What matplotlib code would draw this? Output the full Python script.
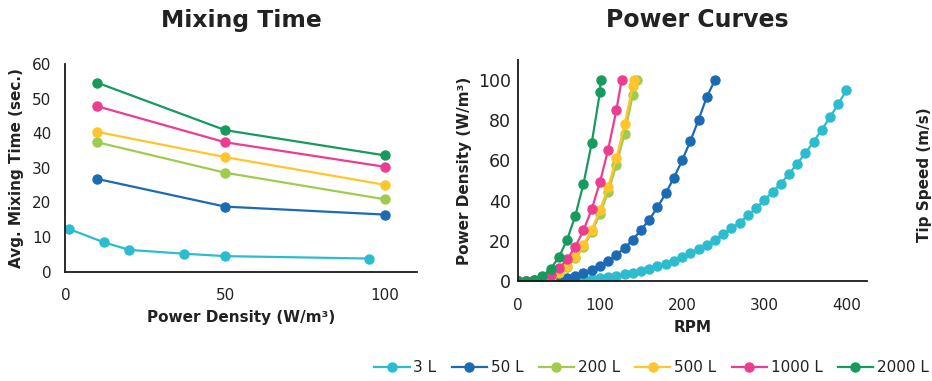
import matplotlib
matplotlib.use('Agg')
import matplotlib.pyplot as plt
from matplotlib.lines import Line2D

# Series names and colours
series = ['3 L', '50 L', '200 L', '500 L', '1000 L', '2000 L']
colors = ['#2BBDCF', '#1B6AB4', '#9FCC4E', '#FFC52C', '#EC3D91', '#179B5C']

# Mixing time vs power density (W/m3 -> sec.)
mix_pd_3 = [1, 12, 20, 37, 50, 95]
mix_t_3 = [12.4, 8.5, 6.3, 5.2, 4.5, 3.8]
mix_pd = [10, 50, 100]
mix_t_50 = [26.8, 18.8, 16.5]
mix_t_200 = [37.4, 28.6, 20.9]
mix_t_500 = [40.4, 33.1, 25.1]
mix_t_1000 = [47.8, 37.4, 30.3]
mix_t_2000 = [54.6, 40.9, 33.6]

# Power curves: RPM vs power density (W/m3)
rpm_3 = [0, 10, 20, 30, 40, 50, 60, 70, 80, 90, 100, 110, 120, 130, 140, 150,
         160, 170, 180, 190, 200, 210, 220, 230, 240, 250, 260, 270, 280, 290,
         300, 310, 320, 330, 340, 350, 360, 370, 380, 390, 400]
pw_3 = [0, 0, 0.05, 0.1, 0.2, 0.3, 0.4, 0.6, 0.8, 1.2, 1.5, 2.0, 2.5, 3.3, 4.2,
        5.1, 6.1, 7.3, 8.6, 10.1, 12.0, 14.0, 16.0, 18.1, 20.5, 23.3, 26.2,
        29.1, 32.6, 36.3, 40.3, 44.3, 48.5, 53.3, 58.4, 63.7, 69.4, 75.4, 81.5,
        88.2, 95.0]
rpm_50 = [0, 10, 20, 30, 40, 50, 60, 70, 80, 90, 100, 110, 120, 130, 140, 150,
          160, 170, 180, 190, 200, 210, 220, 230, 240]
pw_50 = [0, 0, 0.1, 0.2, 0.5, 0.9, 1.6, 2.5, 3.9, 5.5, 7.5, 9.8, 13.0, 16.4,
         20.6, 25.4, 30.6, 36.6, 43.6, 51.4, 60.0, 69.6, 80.2, 91.6, 100]
rpm_200 = [0, 10, 20, 30, 40, 50, 60, 70, 80, 90, 100, 110, 120, 130, 140, 144.6]
pw_200 = [0, 0, 0.3, 0.9, 2.1, 4.2, 7.2, 11.3, 17.0, 24.2, 33.3, 44.4, 57.7,
          73.4, 92.5, 100]
rpm_500 = [0, 10, 20, 30, 40, 50, 60, 70, 80, 90, 100, 110, 120, 130, 140, 141.3]
pw_500 = [0, 0, 0.3, 1.0, 2.3, 4.5, 7.6, 12.0, 17.9, 25.5, 35.2, 47.0, 61.0,
          77.9, 97.3, 100]
rpm_1000 = [0, 10, 20, 30, 40, 50, 60, 70, 80, 90, 100, 110, 120, 126.4]
pw_1000 = [0, 0, 0.4, 1.3, 3.2, 6.3, 10.7, 17.0, 25.2, 35.7, 49.1, 65.4, 85.0, 100]
rpm_2000 = [0, 10, 20, 30, 40, 50, 60, 70, 80, 90, 100, 100.8]
pw_2000 = [0, 0.1, 0.7, 2.6, 6.0, 11.8, 20.4, 32.4, 48.4, 68.6, 94.0, 100]

mix_x = [mix_pd_3, mix_pd, mix_pd, mix_pd, mix_pd, mix_pd]
mix_y = [mix_t_3, mix_t_50, mix_t_200, mix_t_500, mix_t_1000, mix_t_2000]
pc_x = [rpm_3, rpm_50, rpm_200, rpm_500, rpm_1000, rpm_2000]
pc_y = [pw_3, pw_50, pw_200, pw_500, pw_1000, pw_2000]

plt.rcParams['font.family'] = 'DejaVu Sans'
text_color = '#222222'

fig = plt.figure(figsize=(9.32, 3.81), dpi=100)
ax1 = fig.add_axes([0.0701, 0.2869, 0.3773, 0.545])
ax2 = fig.add_axes([0.5555, 0.2625, 0.3748, 0.580])


def style_axes(ax):
    for s in ['top', 'right']:
        ax.spines[s].set_visible(False)
    for s in ['left', 'bottom']:
        ax.spines[s].set_linewidth(1.3)
        ax.spines[s].set_color('#1a1a1a')
    ax.tick_params(length=0, colors=text_color)


# Mixing time panel
for xs, ys, c in zip(mix_x, mix_y, colors):
    ax1.plot(xs, ys, color=c, lw=1.6, marker='o', ms=6.5, mec=c, mfc=c)
style_axes(ax1)
ax1.set_xlim(0, 110)
ax1.set_ylim(0, 60)
ax1.set_xticks([0, 50, 100])
ax1.set_yticks(range(0, 61, 10))
ax1.tick_params(axis='x', pad=12, labelsize=11)
ax1.tick_params(axis='y', pad=10, labelsize=11)
ax1.set_xlabel('Power Density (W/m³)', fontsize=11, fontweight='bold',
               color=text_color, labelpad=5)
ax1.set_ylabel('Avg. Mixing Time (sec.)', fontsize=11, fontweight='bold',
               color=text_color, labelpad=6)

# Power curves panel
for xs, ys, c in zip(pc_x, pc_y, colors):
    ax2.plot(xs, ys, color=c, lw=1.6, marker='o', ms=6.5, mec=c, mfc=c)
style_axes(ax2)
ax2.set_xlim(0, 425)
ax2.set_ylim(0, 110)
ax2.set_xticks(range(0, 401, 100))
ax2.set_yticks(range(0, 101, 20))
ax2.tick_params(axis='x', pad=12, labelsize=11)
ax2.tick_params(axis='y', pad=5, labelsize=12.5)
ax2.set_xlabel('RPM', fontsize=11, fontweight='bold', color=text_color,
               labelpad=5)
ax2.set_ylabel('Power Density (W/m³)', fontsize=11, fontweight='bold',
               color=text_color, labelpad=4)

# Panel titles
fig.text(241.7 / 932, 1 - 20 / 381, 'Mixing Time', fontsize=16.8,
         fontweight='bold', color=text_color, ha='center', va='center')
fig.text(697 / 932, 1 - 20 / 381, 'Power Curves', fontsize=17,
         fontweight='bold', color=text_color, ha='center', va='center')

# Secondary axis title for tip speed
fig.text(925 / 932, 1 - 175 / 381, 'Tip Speed (m/s)', fontsize=11,
         fontweight='bold', color=text_color, rotation=90,
         ha='center', va='center')

# Shared legend along the bottom
handles = [Line2D([], [], color=c, lw=1.6, marker='o', ms=6.5) for c in colors]
fig.legend(handles, series, loc='center', bbox_to_anchor=(0.699, 0.035),
           ncol=6, frameon=False, fontsize=11, handlelength=2.3,
           handletextpad=0.25, columnspacing=1.0, labelcolor=text_color)

fig.savefig('out.png', dpi=100)
